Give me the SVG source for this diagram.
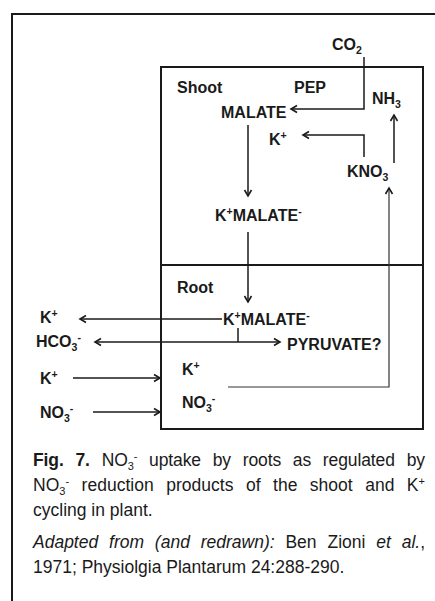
<svg xmlns="http://www.w3.org/2000/svg" width="435" height="601" viewBox="0 0 435 601">
<defs>
<style>
.lbl{font-family:"Liberation Sans",Arial,sans-serif;font-weight:bold;font-size:16px;fill:#1a1a1a}
.s{font-size:10.5px}
.cap{font-family:"Liberation Sans",Arial,sans-serif;font-size:17.5px;fill:#1a1a1a}
.ln{fill:none;stroke:#1a1a1a;stroke-width:1.5}
.thin{fill:none;stroke:#333;stroke-width:1.2}
.frame{fill:none;stroke:#1a1a1a;stroke-width:2}
</style>
<marker id="ah" markerWidth="10" markerHeight="10" refX="8" refY="5" orient="auto-start-reverse" markerUnits="userSpaceOnUse">
<path d="M2,1.5 L8,5 L2,8.5" fill="none" stroke="#1a1a1a" stroke-width="1.6"/>
</marker>
</defs>
<rect width="435" height="601" fill="#fff"/>
<g id="frame">
<path class="frame" d="M12,601 V14 H435"/>
<rect id="inner-box" x="161" y="67" width="262" height="362" class="frame"/>
<line x1="161" y1="265" x2="423" y2="265" class="frame"/>
</g>
<g id="connectors">
<path class="ln" d="M364,57 V109 H291" marker-end="url(#ah)"/>
<path class="ln" d="M364,157 V135 H303" marker-end="url(#ah)"/>
<path class="ln" d="M394,163 V115" marker-end="url(#ah)" stroke-width="1.8"/>
<path class="ln" d="M248,125 V196" marker-end="url(#ah)"/>
<path class="ln" d="M248,232 V302" marker-end="url(#ah)"/>
<path class="ln" d="M222,319 H80" marker-end="url(#ah)"/>
<path class="ln" d="M238,328 V342"/>
<path class="ln" d="M95,342 H280" marker-start="url(#ah)" marker-end="url(#ah)"/>
<path class="ln" d="M73,378 H160" marker-end="url(#ah)"/>
<path class="ln" d="M93,412 H160" marker-end="url(#ah)"/>
<path class="thin" d="M228,387 H389 V188" marker-end="url(#ah)"/>
</g>
<g id="co2"><text class="lbl" x="332" y="50">CO<tspan class="s" dy="4">2</tspan></text></g>
<g id="shoot"><text class="lbl" x="177" y="93">Shoot</text></g>
<g id="pep"><text class="lbl" x="294" y="93">PEP</text></g>
<g id="nh3"><text class="lbl" x="372" y="104">NH<tspan class="s" dy="4">3</tspan></text></g>
<g id="malate"><text class="lbl" x="221" y="118">MALATE</text></g>
<g id="k-shoot"><text class="lbl" x="269" y="145">K<tspan class="s" dy="-6">+</tspan></text></g>
<g id="kno3"><text class="lbl" x="347" y="177">KNO<tspan class="s" dy="4">3</tspan></text></g>
<g id="kmalate-shoot"><text class="lbl" x="215" y="221">K<tspan class="s" dy="-6">+</tspan><tspan dy="6">MALATE</tspan><tspan class="s" dy="-6">-</tspan></text></g>
<g id="root"><text class="lbl" x="177" y="293">Root</text></g>
<g id="kmalate-root"><text class="lbl" x="223" y="325">K<tspan class="s" dy="-6">+</tspan><tspan dy="6">MALATE</tspan><tspan class="s" dy="-6">-</tspan></text></g>
<g id="pyruvate"><text class="lbl" x="287" y="350">PYRUVATE?</text></g>
<g id="k-out"><text class="lbl" x="40" y="323">K<tspan class="s" dy="-6">+</tspan></text></g>
<g id="hco3"><text class="lbl" x="36" y="347">HCO<tspan class="s" dy="4">3</tspan><tspan class="s" dy="-10">-</tspan></text></g>
<g id="k-in"><text class="lbl" x="40" y="384">K<tspan class="s" dy="-6">+</tspan></text></g>
<g id="no3-in"><text class="lbl" x="40" y="418">NO<tspan class="s" dy="4">3</tspan><tspan class="s" dy="-10">-</tspan></text></g>
<g id="k-root"><text class="lbl" x="182" y="375">K<tspan class="s" dy="-6">+</tspan></text></g>
<g id="no3-root"><text class="lbl" x="182" y="408">NO<tspan class="s" dy="4">3</tspan><tspan class="s" dy="-10">-</tspan></text></g>
<g id="caption">
<text class="cap" x="33" y="466" word-spacing="7" textLength="392" lengthAdjust="spacing"><tspan font-weight="bold">Fig. 7.</tspan> NO<tspan font-size="11" dy="4">3</tspan><tspan font-size="11" dy="-10">-</tspan><tspan dy="6"> uptake by roots as regulated by</tspan></text>
<text class="cap" x="33" y="491" word-spacing="7.5" textLength="392" lengthAdjust="spacing">NO<tspan font-size="11" dy="4">3</tspan><tspan font-size="11" dy="-10">-</tspan><tspan dy="6"> reduction products of the shoot and K</tspan><tspan font-size="11" dy="-6">+</tspan></text>
<text class="cap" x="33" y="516">cycling in plant.</text>
<text class="cap" x="33" y="548" word-spacing="6" textLength="392" lengthAdjust="spacing"><tspan font-style="italic">Adapted from (and redrawn):</tspan> Ben Zioni <tspan font-style="italic">et al.</tspan>,</text>
<text class="cap" x="33" y="573">1971; Physiolgia Plantarum 24:288-290.</text>
</g>
</svg>
